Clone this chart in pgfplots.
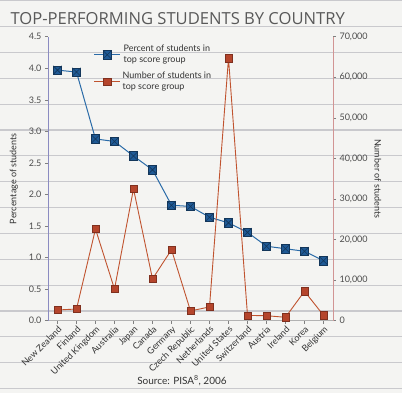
\documentclass[border=0pt]{standalone}
\usepackage{pgfplots}
\pgfplotsset{compat=1.18}
\usepackage{fontspec}
\setmainfont{Lato}
\newfontfamily\titlefont{Open Sans}
\definecolor{bluemk}{HTML}{1F5A96}
\definecolor{blueln}{HTML}{2A6BA8}
\definecolor{redmk}{HTML}{B5452C}
\definecolor{redln}{HTML}{C0532F}
\definecolor{paper}{HTML}{F4F4F2}
\definecolor{pline}{HTML}{C9C9CD}
\pgfdeclareplotmark{sqx}{%
  \pgfpathrectangle{\pgfpoint{-\pgfplotmarksize}{-\pgfplotmarksize}}{\pgfpoint{2\pgfplotmarksize}{2\pgfplotmarksize}}%
  \pgfusepathqfillstroke
  \pgfpathmoveto{\pgfpoint{-\pgfplotmarksize}{-\pgfplotmarksize}}\pgfpathlineto{\pgfpoint{\pgfplotmarksize}{\pgfplotmarksize}}%
  \pgfpathmoveto{\pgfpoint{-\pgfplotmarksize}{\pgfplotmarksize}}\pgfpathlineto{\pgfpoint{\pgfplotmarksize}{-\pgfplotmarksize}}%
  \pgfusepathqstroke}
\pgfplotsset{
  bluestyle/.style={blueln, line width=1pt, mark=sqx, mark size=4.2pt, mark options={fill=bluemk, draw=bluemk!60!black, line width=0.6pt}},
  redstyle/.style={redln, line width=0.9pt, mark=square*, mark size=3.6pt, mark options={fill=redmk, draw=redmk!70!black, line width=0.5pt}},
}
\begin{document}
\begin{tikzpicture}
\useasboundingbox (-48pt,-72.3pt) rectangle (354pt,320.7pt);
\fill[paper] (-48pt,-72.3pt) rectangle (354pt,320.7pt);
\foreach \k in {0,...,15} {
  \draw[pline, line width=1.1pt] (-48pt,{320.7pt-0.8pt-\k*25.85pt}) -- (354pt,{320.7pt-0.8pt-\k*25.85pt});
}
\node[anchor=west, font=\titlefont\fontsize{16.6}{19}\selectfont, text=black!65] at (-41pt,302pt) {TOP-PERFORMING STUDENTS BY COUNTRY};
\begin{axis}[
  at={(0pt,0pt)}, anchor=south west,
  scale only axis, width=285pt, height=284pt,
  xmin=-0.5, xmax=14.5, ymin=0, ymax=4.5,
  axis y line*=left, axis x line*=bottom,
  y axis line style={color=blue!30!gray!70, line width=0.6pt},
  x axis line style={color=gray!60, line width=0.6pt},
  tick align=outside, major tick length=3pt,
  tick style={gray, line width=0.5pt},
  xtick={0,...,14},
  xticklabels={New Zealand,Finland,United Kingdom,Australia,Japan,Canada,Germany,Czech Republic,Netherlands,United States,Switzerland,Austria,Ireland,Korea,Belgium},
  xticklabel style={rotate=45, anchor=north east, font=\small, text=black!80, inner sep=1pt},
  ytick={0,0.5,1,1.5,2,2.5,3,3.5,4,4.5},
  yticklabel style={font=\small, text=black!70, /pgf/number format/.cd, fixed, fixed zerofill, precision=1, assume math mode=true},
  ylabel={Percentage of students},
  ylabel style={font=\small, text=black!80, xshift=0pt, yshift=4pt},
  legend style={at={(0.15,0.985)}, anchor=north west, draw=none, fill=none, font=\small, cells={align=left}, row sep=4pt, text=black!80},
  legend image code/.code={\draw[mark repeat=2,mark phase=2,#1] plot coordinates {(0cm,0cm)(0.45cm,0cm)(0.9cm,0cm)};},
]
\addplot[bluestyle] coordinates {(0,3.97)(1,3.94)(2,2.88)(3,2.84)(4,2.61)(5,2.39)(6,1.83)(7,1.81)(8,1.64)(9,1.55)(10,1.40)(11,1.18)(12,1.14)(13,1.10)(14,0.95)};
\addlegendentry{Percent of students in\\top score group}
\addlegendimage{redstyle}
\addlegendentry{Number of students in\\top score group}
\end{axis}
\begin{axis}[
  at={(0pt,0pt)}, anchor=south west,
  scale only axis, width=285pt, height=284pt,
  xmin=-0.5, xmax=14.5, ymin=0, ymax=70000,
  axis y line*=right, axis x line=none,
  y axis line style={color=red!40!gray!60, line width=0.6pt},
  tick align=outside, major tick length=3pt,
  tick style={gray, line width=0.5pt},
  ytick={0,10000,20000,30000,40000,50000,60000,70000},
  scaled y ticks=false,
  yticklabel style={font=\small, text=black!70, /pgf/number format/.cd, 1000 sep={,}, assume math mode=true},
  ylabel={Number of students},
  ylabel style={font=\small, text=black!80, rotate=180},
]
\addplot[redstyle] coordinates {(0,2640)(1,2880)(2,22600)(3,7800)(4,32500)(5,10300)(6,17500)(7,2400)(8,3400)(9,64700)(10,1300)(11,1230)(12,840)(13,7250)(14,1330)};
\end{axis}
\node[font=\normalsize, text=black!80] at (134pt,-60pt) {Source: PISA\textsuperscript{8}, 2006};
\end{tikzpicture}
\end{document}
